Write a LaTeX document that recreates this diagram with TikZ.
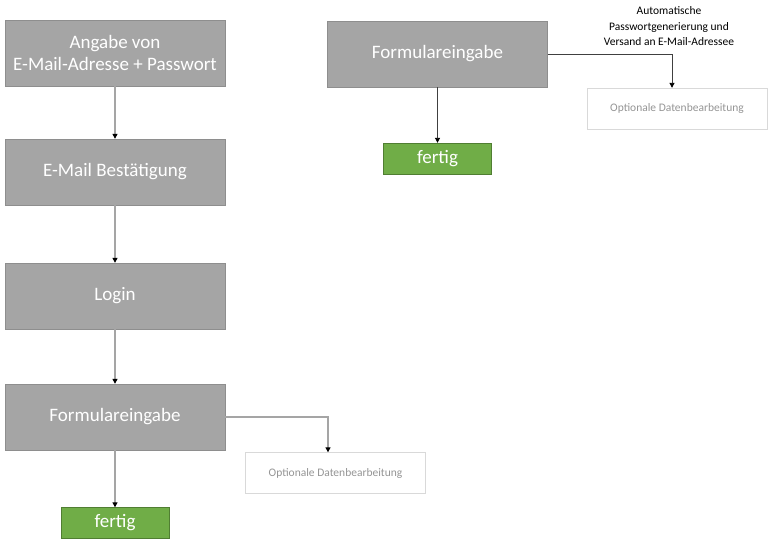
\documentclass[tikz,border=0pt]{standalone}
\usepackage{fontspec}
\setmainfont{Carlito}
\usetikzlibrary{arrows.meta}
\definecolor{boxgray}{HTML}{A5A5A5}
\definecolor{boxline}{HTML}{8E8E8E}
\definecolor{donegreen}{HTML}{70AD47}
\definecolor{doneline}{HTML}{507E32}
\definecolor{optline}{HTML}{D9D9D9}
\definecolor{opttext}{HTML}{959595}
\begin{document}
\begin{tikzpicture}[x=1pt,y=1pt]
\useasboundingbox (0,0) rectangle (768,-547);
\begin{scope}[every node/.style={draw=boxline,fill=boxgray,text=white,
              minimum width=220pt,minimum height=66pt,align=center,inner sep=0pt,
              font=\fontsize{19}{22}\selectfont}]
    \node (Angabe) at (115,-53) {Angabe von\\E-Mail-Adresse + Passwort};
    \node (Bestaetigung) at (115,-172) {E-Mail Bestätigung};
    \node (Login) at (115,-296) {Login};
    \node (FormL) at (115,-417) {Formulareingabe};
    \node (FormR) at (437.5,-54) {Formulareingabe};
\end{scope}

\begin{scope}[every node/.style={draw=doneline,fill=donegreen,text=white,
              minimum width=108pt,minimum height=31pt,inner sep=0pt,
              font=\fontsize{19}{20}\selectfont}]
    \node (FertigL) at (115,-523) {fertig};
    \node (FertigR) at (437.5,-158.5) {fertig};
\end{scope}

\begin{scope}[every node/.style={draw=optline,fill=white,text=opttext,
              minimum width=180pt,minimum height=41pt,inner sep=0pt,
              font=\fontsize{11.5}{13}\selectfont}]
    \node (OptL) at (335.5,-473) {Optionale Datenbearbeitung};
    \node (OptR) at (677,-108.5) {Optionale Datenbearbeitung};
\end{scope}

\node[align=center,font=\fontsize{11.5}{15.5}\selectfont] (Hinweis) at (669,-26.5)
    {Automatische\\Passwortgenerierung und\\Versand an E-Mail-Adressee};

\begin{scope}[every path/.style={draw=boxgray,line width=1.2pt,
              -{Triangle[black,length=5pt,width=5pt]}}]
    \path (Angabe) edge (Bestaetigung);
    \path (Bestaetigung) edge (Login);
    \path (Login) edge (FormL);
    \path (FormL) edge (FertigL);
    \draw (FormL.east) -| ([xshift=-7.5pt]OptL.north);
\end{scope}

\begin{scope}[every path/.style={draw=black!75,line width=0.9pt,
              -{Triangle[black,length=5pt,width=5pt]}}]
    \path (FormR) edge (FertigR);
    \draw (FormR.east) -| ([xshift=-5pt]OptR.north);
\end{scope}
\end{tikzpicture}
\end{document}
